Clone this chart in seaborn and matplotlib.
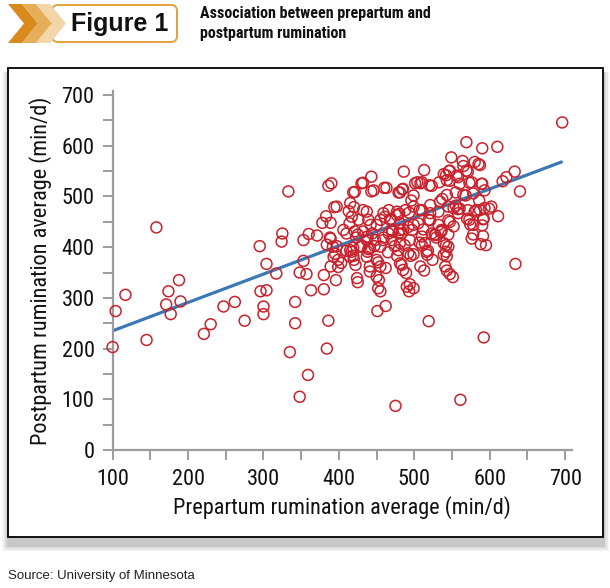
import numpy as np
import pandas as pd
import matplotlib
matplotlib.use('Agg')
import matplotlib.pyplot as plt
import seaborn as sns
from matplotlib.patches import Polygon, Rectangle, FancyBboxPatch
from matplotlib.ticker import MultipleLocator

# ==================== 数据 ====================
prepartum = [
    100, 104, 117, 145, 158, 171, 174, 177, 188, 190, 221, 230, 247, 262, 275, 295, 296, 300, 300, 304,
    304, 317, 324, 325, 333, 335, 342, 342, 348, 348, 353, 353, 357, 359, 360, 363, 371, 380, 380, 384,
    386, 386, 390, 394, 378, 383, 389, 384, 389, 392, 395, 389, 396, 399, 403,
    410, 413, 414, 417, 419, 420, 417, 420, 422, 423, 425, 430, 437, 438, 438, 441, 443, 443, 442, 451,
    453, 455, 460, 461, 462, 462, 466, 469, 475, 477, 479, 479, 481, 485, 486, 487, 483, 489, 493, 499,
    495, 496, 499, 504, 510, 513, 507, 513, 514, 516, 519, 523, 521, 524, 529, 535, 537, 542, 545, 542,
    542, 543, 543, 547, 547, 549, 551, 552, 555, 555, 558, 560, 561, 564, 565, 568, 569, 569, 570, 573,
    574, 576, 580, 582, 585, 586, 588, 589, 590, 590, 592, 592, 593, 595, 599, 602, 610, 611, 617, 622,
    633, 634, 640, 696,
    587, 546, 539, 556, 571, 432, 421, 446, 463, 481, 484, 501, 508, 520, 533, 543, 560, 576, 590, 578,
    397, 425, 450, 480, 493, 521, 534, 543, 552, 558, 565, 571, 580, 587, 593, 591, 573, 578, 545, 512,
    499, 485, 471, 459, 447, 439, 430, 419, 410, 397, 388, 419, 452, 465, 474, 477, 499, 507, 518, 527,
    536, 578, 591,
    466, 477, 488, 499, 510, 521, 532, 545, 558, 468, 481, 492, 505, 519, 532, 547, 470, 483, 497, 510,
    523, 536, 470, 481, 494, 510, 528, 539, 545, 479, 492, 517, 539, 481, 485, 508, 541, 547, 490, 494,
    406, 415, 426, 432, 439, 455, 459, 421, 432, 444, 437, 448, 459, 415, 428, 441, 455, 393, 399, 415,
    437, 441, 450, 455, 450, 424, 452,
]
postpartum = [
    203, 274, 306, 217, 439, 287, 313, 268, 335, 293, 229, 248, 283, 292, 255, 402, 313, 283, 268, 315,
    367, 348, 411, 427, 510, 193, 292, 250, 105, 350, 414, 373, 347, 148, 426, 315, 423, 317, 345, 200,
    255, 521, 526, 479, 448, 461, 448, 405, 417, 401, 387, 362, 335, 361, 369,
    427, 471, 447, 460, 508, 479, 391, 375, 365, 419, 331, 526, 470, 421, 391, 352, 539, 510, 444, 274,
    335, 313, 517, 460, 284, 359, 427, 456, 87, 463, 427, 508, 434, 515, 549, 404, 365, 349, 313, 319,
    383, 492, 502, 528, 528, 552, 473, 354, 408, 391, 254, 521, 453, 375, 419, 430, 495, 542, 453, 404,
    391, 382, 354, 551, 531, 577, 341, 441, 482, 508, 538, 476, 99, 570, 560, 502, 607, 551, 456, 527,
    445, 417, 568, 473, 564, 492, 406, 525, 595, 443, 222, 456, 512, 404, 476, 480, 598, 461, 530, 538,
    549, 367, 510, 646,
    562, 550, 544, 541, 549, 527, 509, 512, 517, 508, 514, 526, 526, 522, 528, 532, 525, 528, 525, 506,
    480, 425, 444, 466, 468, 483, 490, 503, 477, 475, 503, 473, 470, 473, 477, 455, 454, 444, 425, 435,
    444, 435, 431, 419, 402, 396, 402, 399, 393, 402, 419, 383, 370, 390, 402, 383, 386, 409, 393, 425,
    432, 425, 422,
    473, 470, 473, 480, 473, 467, 470, 480, 467, 454, 447, 440, 447, 454, 444, 450, 434, 427, 434, 421,
    427, 434, 414, 408, 414, 404, 424, 408, 401, 394, 388, 385, 385, 368, 355, 362, 362, 347, 322, 327,
    434, 487, 454, 473, 454, 454, 467, 431, 431, 427, 414, 414, 414, 394, 401, 398, 401, 381, 375, 381,
    381, 362, 375, 362, 342, 339, 319,
]
fit_x = [100, 695]
fit_y = [235, 568]

x_ticks = [100, 200, 300, 400, 500, 600, 700]
y_ticks = [0, 100, 200, 300, 400, 500, 600, 700]

title_text = 'Association between prepartum and\npostpartum rumination'
badge_text = 'Figure 1'
x_label = 'Prepartum rumination average (min/d)'
y_label = 'Postpartum rumination average (min/d)'
source_text = 'Source: University of Minnesota'

df = pd.DataFrame({'prepartum': prepartum, 'postpartum': postpartum})

# ==================== 样式 ====================
sns.set_theme(style='white')
narrow = ['Roboto Condensed', 'Liberation Sans Narrow', 'DejaVu Sans']
plain = ['Liberation Sans', 'DejaVu Sans']
plt.rcParams['font.family'] = narrow

W, H = 610, 588
fig = plt.figure(figsize=(W / 100, H / 100), dpi=100)

# 底层：像素坐标的装饰层
bg = fig.add_axes([0, 0, 1, 1], zorder=0)
bg.set_xlim(0, W)
bg.set_ylim(H, 0)
bg.axis('off')

# 阴影 + 边框
for i, a in enumerate([0.06, 0.08, 0.10, 0.12]):
    off = 6 - i * 1.5
    bg.add_patch(Rectangle((8 - off, 68 + 4), 595 + 2 * off, 469 + off + 4,
                           facecolor='#555555', edgecolor='none', alpha=a))
bg.add_patch(Rectangle((8, 68), 595, 469, facecolor='white', edgecolor='black', linewidth=1.3))

# 标题徽章
bg.add_patch(FancyBboxPatch((52, 5), 125, 37, boxstyle='round,pad=0,rounding_size=6',
                            facecolor='white', edgecolor='#E3A13A', linewidth=1.4))
chev_colors = ['#D98A1C', '#E6AE5B', '#F2D5A8']
for x0, c in zip([8, 22, 36], chev_colors):
    top, bot, mid, bw, dp = 4, 43, 23.5, 14, 16
    pts = [(x0, top), (x0 + bw, top), (x0 + bw + dp, mid), (x0 + bw, bot), (x0, bot), (x0 + dp, mid)]
    bg.add_patch(Polygon(pts, closed=True, facecolor=c, edgecolor='none'))
bg.text(120, 24, badge_text, family=plain, fontsize=18, fontweight='bold',
        ha='center', va='center', color='#111111')
bg.text(200, 6, title_text, family=narrow, fontsize=11.5, fontweight='bold',
        ha='left', va='top', color='#111111', linespacing=1.45)
bg.text(8, 576, source_text, family=plain, fontsize=9.5, ha='left', va='center', color='#222222')

# ==================== 散点图 ====================
ax = fig.add_axes([112.6 / W, 1 - 450 / H, (572 - 112.6) / W, 359 / H], zorder=2)
ax.set_facecolor('none')

sns.lineplot(x=fit_x, y=fit_y, ax=ax, color='#3B78B6', linewidth=2.3, zorder=2)
sns.scatterplot(data=df, x='prepartum', y='postpartum', ax=ax, s=62, marker='o',
                facecolors='none', edgecolor='#C9222C', linewidth=1.1, zorder=3, clip_on=False)

ax.set_xlim(100, 709)
ax.set_ylim(0, 708)
ax.set_xticks(x_ticks)
ax.set_yticks(y_ticks)
ax.xaxis.set_minor_locator(MultipleLocator(50))
ax.yaxis.set_minor_locator(MultipleLocator(50))

for s in ['top', 'right']:
    ax.spines[s].set_visible(False)
for s in ['left', 'bottom']:
    ax.spines[s].set_color('#9C9C9C')
    ax.spines[s].set_linewidth(1.6)

ax.tick_params(which='both', direction='out', length=7, width=1.4, color='#9C9C9C',
               bottom=True, left=True, labelsize=16, labelcolor='#111111')
ax.tick_params(axis='x', which='major', pad=7)
ax.tick_params(axis='y', which='major', pad=6)

ax.set_xlabel(x_label, fontsize=16, color='#111111', labelpad=4)
ax.set_ylabel(y_label, fontsize=16, color='#111111', labelpad=7)

plt.savefig('out.png', dpi=100)
